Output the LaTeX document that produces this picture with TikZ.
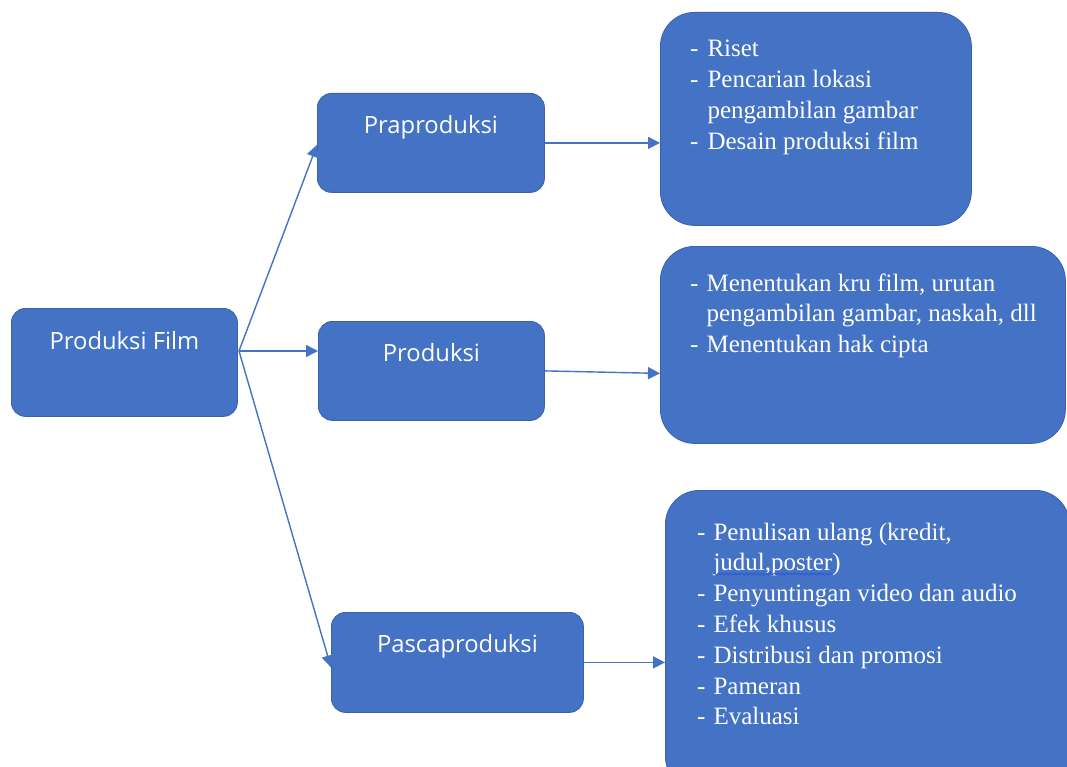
\documentclass[tikz,border=0pt]{standalone}
\usepackage{fontspec}
\setmainfont{Liberation Serif}
\newfontfamily\boxsans{Open Sans}
\usetikzlibrary{arrows.meta,decorations.pathmorphing}
\definecolor{obl}{HTML}{4472C4}
\definecolor{obd}{HTML}{3A62AA}
\definecolor{squig}{HTML}{2A55D8}
\begin{document}
\begin{tikzpicture}[x=1pt,y=-1pt,
  sbox/.style={draw=obd, line width=0.8pt, fill=obl, rounded corners=14pt, anchor=north west, inner sep=0pt},
  bbox/.style={draw=obd, line width=0.8pt, fill=obl, rounded corners=34pt, anchor=north west, inner sep=0pt},
  slbl/.style={text=white, font=\boxsans\fontsize{23.8}{27}\selectfont, anchor=base, inner sep=0pt},
  lst/.style={text=white, font=\fontsize{25}{30.8}\selectfont, anchor=base west, inner sep=0pt},
  conn/.style={draw=obl, line width=1.4pt, -{Triangle[length=12pt,width=12pt]}}]
\useasboundingbox (0,0) rectangle (1067,767);
\begin{scope}
\clip (0,0) rectangle (1067,767);
% boxes
\node[sbox, minimum width=226pt, minimum height=108pt] (pf) at (11,308) {};
\node[sbox, minimum width=227pt, minimum height=99pt] (pra) at (317,93) {};
\node[sbox, minimum width=226pt, minimum height=99pt] (pro) at (318,321) {};
\node[sbox, minimum width=252pt, minimum height=100pt] (pas) at (331,612) {};
\node[bbox, minimum width=311pt, minimum height=213pt] (r1) at (660,12) {};
\node[bbox, minimum width=405pt, minimum height=197pt] (r2) at (660,246) {};
\node[bbox, minimum width=404pt, minimum height=300pt] (r3) at (665,490) {};
% labels
\node[slbl] (pft) at (pf.center |- 0,349) {Produksi Film};
\node[slbl] (prat) at (pra.center |- 0,134) {Praproduksi};
\node[slbl] (prot) at (pro.center |- 0,361) {Produksi};
\node[slbl] (past) at (pas.center |- 0,652) {Pascaproduksi};
\node[lst] (r1t) at (690,57) {\begin{tabular}[t]{@{}l@{\hspace{9pt}}l@{}}
-& Riset\\
-& Pencarian lokasi\\
 & pengambilan gambar\\
-& Desain produksi film
\end{tabular}};
\node[lst] (r2t) at (690,291) {\begin{tabular}[t]{@{}l@{\hspace{8pt}}l@{}}
-& Menentukan kru film, urutan\\
 & pengambilan gambar, naskah, dll\\
-& Menentukan hak cipta
\end{tabular}};
\node[lst] (r3t) at (697,540) {\begin{tabular}[t]{@{}l@{\hspace{8pt}}l@{}}
-& Penulisan ulang (kredit,\\
 & judul,poster)\\
-& Penyuntingan video dan audio\\
-& Efek khusus\\
-& Distribusi dan promosi\\
-& Pameran\\
-& Evaluasi
\end{tabular}};
% spell-check squiggle
\draw[squig, line width=0.7pt, decorate, decoration={snake, amplitude=1pt, segment length=4pt}] (713,574) -- (833,574);
% connectors
\coordinate (pfo) at (239,351);
\draw[conn] (pfo) -- ([yshift=-2pt]pra.west);
\draw[conn] (pfo) -- (pfo -| pro.west);
\draw[conn] (pfo) -- ([yshift=-5pt]pas.west);
\draw[conn] (pra.east) -- (pra.east -| r1.west);
\draw[conn] (pro.east) -- ([yshift=-2.5pt]pro.east -| r2.west);
\draw[conn] (pas.east) -- (pas.east -| r3.west);
\end{scope}
\end{tikzpicture}
\end{document}
